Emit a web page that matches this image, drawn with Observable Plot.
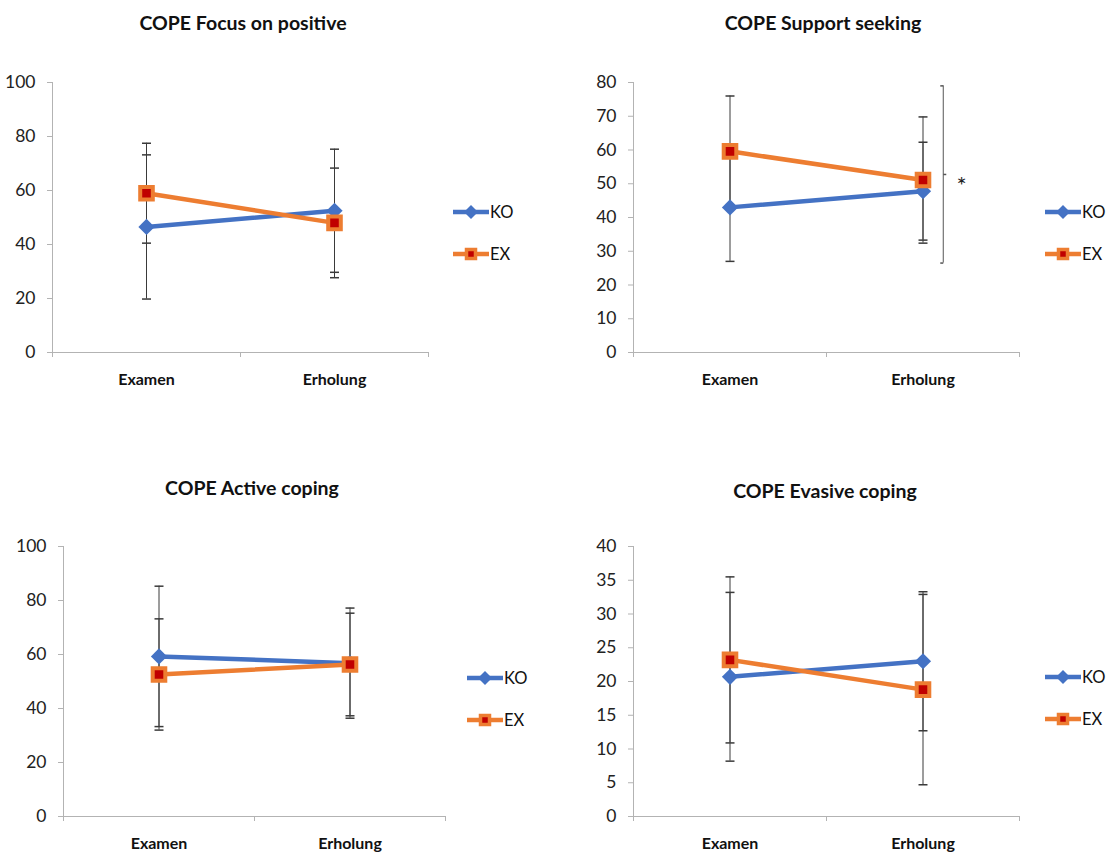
<!DOCTYPE html>
<html><head><meta charset="utf-8">
<script src="https://cdn.jsdelivr.net/npm/d3@7"></script>
<script src="https://cdn.jsdelivr.net/npm/@observablehq/plot@0.6"></script>
<style>
body{margin:0;background:#fff;}
#root{position:relative;width:1106px;height:858px;overflow:hidden;font-family:Lato,"Noto Sans",sans-serif;}
.title{position:absolute;transform:translate(-50%,-50%);font-weight:bold;font-size:19.5px;white-space:nowrap;color:#111;}
.panel{position:absolute;}
.legend{position:absolute;display:flex;align-items:center;font-size:16.5px;color:#111;height:18px;}
.legend svg{display:block;margin-right:1px;}
</style></head>
<body><div id="root"></div>
<script>
// ---- data ----
const categories = ["Examen", "Erholung"];
const groups = ["KO", "EX"];

const focusKO = [46.5, 52.5];   const focusKOsd = [26.7, 22.8];
const focusEX = [59.0, 48.0];   const focusEXsd = [18.5, 20.3];

const supportKO = [43.0, 47.8]; const supportKOsd = [16.0, 14.5];
const supportEX = [59.6, 51.1]; const supportEXsd = [16.4, 18.7];

const activeKO = [59.3, 56.8];  const activeKOsd = [26.0, 20.4];
const activeEX = [52.6, 56.3];  const activeEXsd = [20.6, 19.0];

const evasiveKO = [20.7, 23.0]; const evasiveKOsd = [12.5, 10.3];
const evasiveEX = [23.2, 18.8]; const evasiveEXsd = [12.3, 14.1];

const titles = ["COPE Focus on positive", "COPE Support seeking", "COPE Active coping", "COPE Evasive coping"];
const yMaxes = [100, 80, 100, 40];
const ySteps = [20, 10, 20, 5];

// significance bracket (support seeking panel): x in category units, y in data units
const significance = [{panel: 1, x: 1.605, y1: 79, y2: 26.5, textX: 1.70, label: "*"}];

// ---- styling / layout ----
const BLUE = "#4472C4", ORANGE = "#ED7D31", RED = "#C00000", AXIS = "#b3b3b3", ERR = "#3a3a3a";
const FONT = 'Lato,"Noto Sans",sans-serif';

const layout = [
  {left:0,   top:60,  axisX:52,  axisEnd:428,  plotTop:82,  plotBottom:352, titleX:243, titleY:22,  legX:453,  legKO:212, legEX:254},
  {left:553, top:60,  axisX:633, axisEnd:1019, plotTop:82,  plotBottom:352, titleX:823, titleY:22,  legX:1045, legKO:212, legEX:254},
  {left:0,   top:524, axisX:63,  axisEnd:445,  plotTop:546, plotBottom:816, titleX:252, titleY:487, legX:467,  legKO:678, legEX:720},
  {left:553, top:524, axisX:633, axisEnd:1019, plotTop:546, plotBottom:816, titleX:825, titleY:490, legX:1045, legKO:677, legEX:719}
];

const series = [
  [focusKO, focusKOsd, focusEX, focusEXsd],
  [supportKO, supportKOsd, supportEX, supportEXsd],
  [activeKO, activeKOsd, activeEX, activeEXsd],
  [evasiveKO, evasiveKOsd, evasiveEX, evasiveEXsd]
];

const capSymbol = {draw(ctx){ ctx.moveTo(-4.5, 0); ctx.lineTo(4.5, 0); }};
const leftTick = {draw(ctx){ ctx.moveTo(-3, 0); ctx.lineTo(0, 0); }};
const rightTick = {draw(ctx){ ctx.moveTo(0, 0); ctx.lineTo(3, 0); }};

const root = document.getElementById("root");

series.forEach(([ko, koSd, ex, exSd], p) => {
  const L = layout[p];
  const rows = [];
  groups.forEach(g => categories.forEach((c, i) => {
    const mean = g === "KO" ? ko[i] : ex[i];
    const sd = g === "KO" ? koSd[i] : exSd[i];
    rows.push({group: g, category: c, pos: i + 0.5, mean, sd, lo: mean - sd, hi: mean + sd});
  }));
  const koRows = rows.filter(d => d.group === "KO");
  const exRows = rows.filter(d => d.group === "EX");

  const marginLeft = L.axisX - L.left;
  const marginTop = L.plotTop - L.top;
  const marginRight = 12;
  const marginBottom = 50;
  const width = L.axisEnd - L.left + marginRight;
  const height = marginTop + (L.plotBottom - L.plotTop) + marginBottom;

  const sig = significance.filter(s => s.panel === p);

  const marks = [
    Plot.ruleY([0], {stroke: AXIS}),
    Plot.ruleX([0], {stroke: AXIS}),
    Plot.axisY({ticks: d3.range(0, yMaxes[p] + 1e-9, ySteps[p]), tickSize: 5, tickPadding: 12, stroke: AXIS, fill: "#222", fontSize: 17.5, label: null}),
    Plot.axisX({ticks: [0, 1, 2], tickSize: 5, tickFormat: () => "", stroke: AXIS, label: null}),
    Plot.axisX({ticks: [0.5, 1.5], tickSize: 0, tickPadding: 21, tickFormat: d => categories[Math.floor(d)], fontWeight: "bold", fontSize: 16, fill: "#111", label: null}),
    // error bars
    Plot.ruleX(rows, {x: "pos", y1: "lo", y2: "hi", stroke: ERR, strokeWidth: 1}),
    Plot.dot(rows, {x: "pos", y: "hi", symbol: capSymbol, stroke: ERR, fill: "none", r: 4}),
    Plot.dot(rows, {x: "pos", y: "lo", symbol: capSymbol, stroke: ERR, fill: "none", r: 4}),
    // KO series
    Plot.line(koRows, {x: "pos", y: "mean", stroke: BLUE, strokeWidth: 4.5}),
    Plot.dot(koRows, {x: "pos", y: "mean", symbol: "diamond2", fill: BLUE, stroke: "none", r: 7.3}),
    // EX series
    Plot.line(exRows, {x: "pos", y: "mean", stroke: ORANGE, strokeWidth: 4.5}),
    Plot.dot(exRows, {x: "pos", y: "mean", symbol: "square", fill: RED, stroke: ORANGE, strokeWidth: 4, r: 7.1}),
    // significance bracket
    Plot.ruleX(sig, {x: "x", y1: "y1", y2: "y2", stroke: "#555", strokeWidth: 1}),
    Plot.dot(sig, {x: "x", y: "y1", symbol: leftTick, stroke: "#555", fill: "none", r: 3}),
    Plot.dot(sig, {x: "x", y: "y2", symbol: leftTick, stroke: "#555", fill: "none", r: 3}),
    Plot.dot(sig, {x: "x", y: d => (d.y1 + d.y2) / 2, symbol: rightTick, stroke: "#555", fill: "none", r: 3}),
    Plot.text(sig, {x: "textX", y: d => (d.y1 + d.y2) / 2, text: "label", fontSize: 24, fill: "#222", dy: 12})
  ];

  const chart = Plot.plot({
    width, height, marginLeft, marginTop, marginRight, marginBottom,
    style: {fontFamily: FONT, background: "transparent", overflow: "visible"},
    x: {type: "linear", domain: [0, 2], axis: null},
    y: {domain: [0, yMaxes[p]], axis: null},
    marks
  });
  chart.classList.add("panel");
  chart.style.left = L.left + "px";
  chart.style.top = L.top + "px";
  root.appendChild(chart);

  const t = document.createElement("div");
  t.className = "title";
  t.textContent = titles[p];
  t.style.left = L.titleX + "px";
  t.style.top = L.titleY + "px";
  root.appendChild(t);

  groups.forEach(g => {
    const lg = document.createElement("div");
    lg.className = "legend";
    lg.style.left = L.legX + "px";
    lg.style.top = ((g === "KO" ? L.legKO : L.legEX) - 9) + "px";
    const marker = g === "KO"
      ? `<path d="M18,2 L25,9 L18,16 L11,9 Z" fill="${BLUE}"/>`
      : `<rect x="13.5" y="4.5" width="9" height="9" fill="${RED}" stroke="${ORANGE}" stroke-width="3.5"/>`;
    lg.innerHTML = `<svg width="36" height="18"><line x1="0" x2="36" y1="9" y2="9" stroke="${g === "KO" ? BLUE : ORANGE}" stroke-width="4.5" stroke-linecap="round"/>${marker}</svg><span>${g}</span>`;
    root.appendChild(lg);
  });
});
</script>
</body></html>
